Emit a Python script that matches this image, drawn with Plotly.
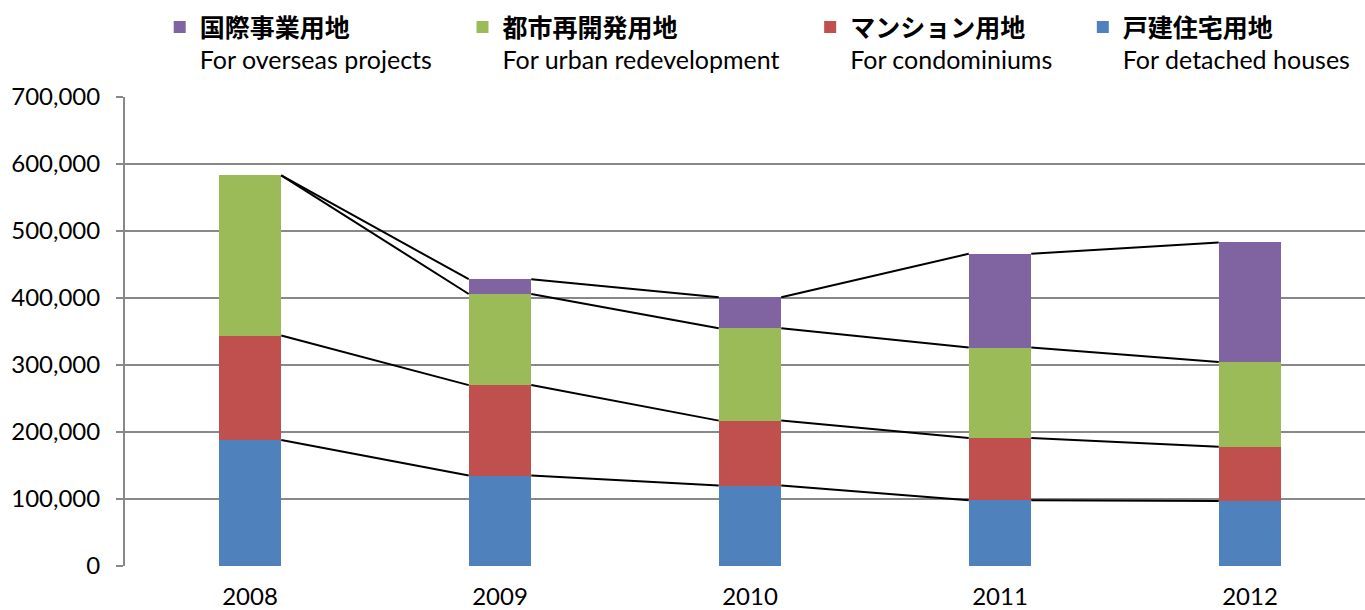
import plotly.graph_objects as go

years = ["2008", "2009", "2010", "2011", "2012"]
detached = [188000, 135000, 120000, 98000, 97000]
condo = [156000, 135000, 97000, 93000, 81000]
urban = [239000, 136000, 138000, 135000, 126500]
overseas = [0, 22000, 46000, 140000, 178500]

names_jp = ["戸建住宅用地", "マンション用地", "都市再開発用地", "国際事業用地"]
names_en = ["For detached houses", "For condominiums", "For urban redevelopment", "For overseas projects"]
colors = ["#4F81BD", "#C0504D", "#9BBB59", "#8064A2"]
series = [detached, condo, urban, overseas]

y_ticks = [0, 100000, 200000, 300000, 400000, 500000, 600000, 700000]

font_family = "Lato, 'Noto Sans CJK JP', sans-serif"
bar_w = 0.25

fig = go.Figure()
for i, (vals, jp, en, c) in enumerate(zip(series, names_jp, names_en, colors)):
    pad = "" if i == 0 else "&nbsp;" * 4
    fig.add_trace(go.Bar(
        x=list(range(len(years))), y=vals,
        name=f"<span style='font-family:Noto Sans CJK JP;font-weight:bold'>{jp}</span><br>{en}{pad}",
        marker=dict(color=c, line=dict(width=0)),
        width=bar_w, legendrank=100 - i,
    ))

# series lines connecting tops of each stacked segment
cum = [0] * len(years)
for vals in series:
    cum = [a + b for a, b in zip(cum, vals)]
    lx, ly = [], []
    for j in range(len(years) - 1):
        lx += [j + bar_w / 2, j + 1 - bar_w / 2, None]
        ly += [cum[j], cum[j + 1], None]
    fig.add_trace(go.Scatter(x=lx, y=ly, mode="lines", line=dict(color="black", width=2),
                             showlegend=False, hoverinfo="skip"))

fig.update_layout(
    barmode="stack",
    width=1365, height=610,
    margin=dict(l=125, r=0, t=97, b=44, autoexpand=False),
    paper_bgcolor="white", plot_bgcolor="white",
    font=dict(family=font_family, color="#000000"),
    legend=dict(
        orientation="h", xref="container", yref="container",
        x=0.117, y=0.993, xanchor="left", yanchor="top",
        font=dict(size=25, family=font_family), valign="top",
        itemwidth=30, traceorder="normal",
    ),
    bargap=0.75,
)
fig.update_xaxes(
    tickmode="array", tickvals=list(range(len(years))), ticktext=years,
    range=[-0.5, 4.46], showgrid=False, zeroline=False,
    showline=False, ticks="", tickfont=dict(size=24, family=font_family),
    ticklabelstandoff=14, automargin=False,
)
fig.update_yaxes(
    range=[0, 700000], tickvals=y_ticks, tickformat=",",
    showgrid=True, gridcolor="#888888", gridwidth=2,
    showline=True, linecolor="#888888", linewidth=2,
    ticks="outside", ticklen=7, tickcolor="#888888", tickwidth=2,
    zeroline=False, tickfont=dict(size=24, family=font_family),
    ticklabelstandoff=11, automargin=False,
)

fig.write_html("out.html", config={"displayModeBar": False},
               post_script="document.body.style.margin='0';document.body.style.overflow='hidden';")
